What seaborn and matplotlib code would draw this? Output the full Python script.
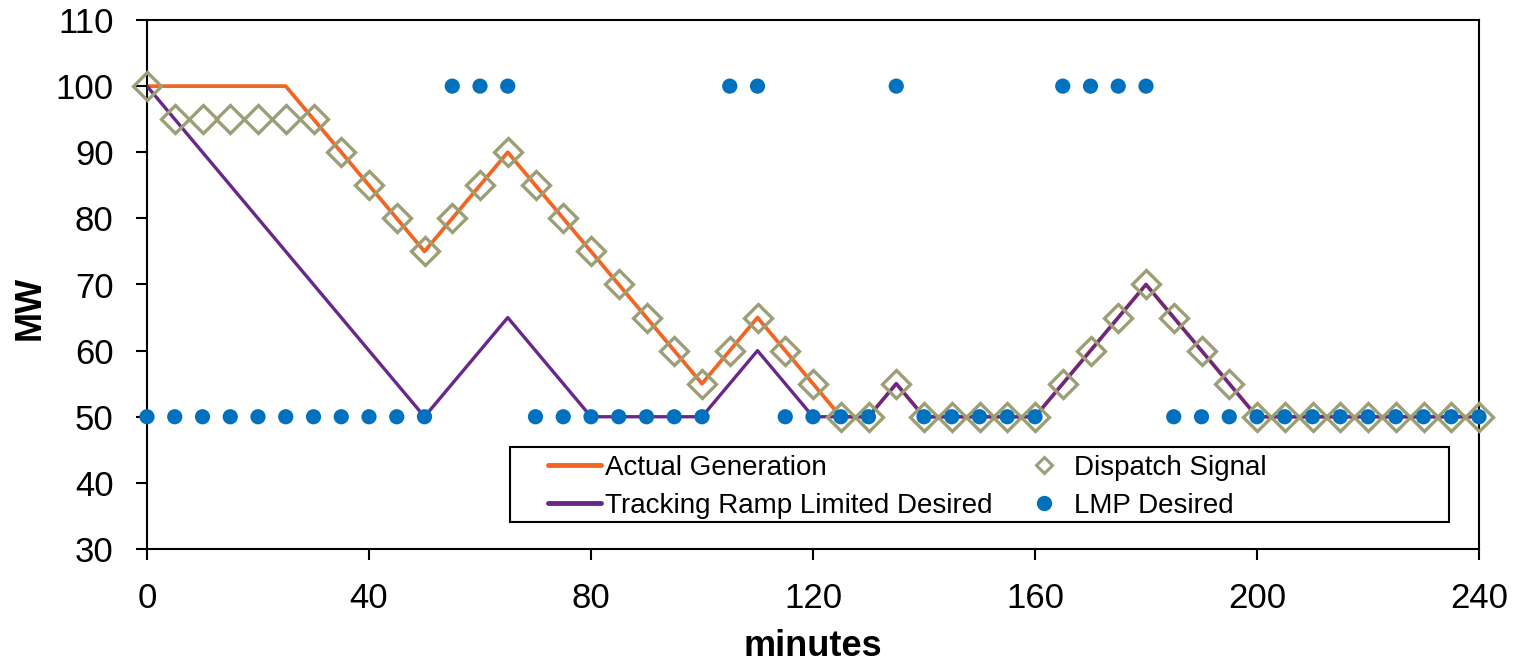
import matplotlib
matplotlib.use('Agg')
import matplotlib.pyplot as plt
from matplotlib.lines import Line2D
from matplotlib.patches import Rectangle
import pandas as pd
import seaborn as sns

# --- chart values ---
minutes = [0, 5, 10, 15, 20, 25, 30, 35, 40, 45, 50, 55, 60, 65, 70, 75, 80, 85, 90, 95,
           100, 105, 110, 115, 120, 125, 130, 135, 140, 145, 150, 155, 160, 165, 170, 175,
           180, 185, 190, 195, 200, 205, 210, 215, 220, 225, 230, 235, 240]

actual_generation = [100, 100, 100, 100, 100, 100, 95, 90, 85, 80, 75, 80, 85, 90, 85, 80, 75, 70, 65, 60,
                     55, 60, 65, 60, 55, 50, 50, 55, 50, 50, 50, 50, 50, 55, 60, 65,
                     70, 65, 60, 55, 50, 50, 50, 50, 50, 50, 50, 50, 50]

ramp_limited = [100, 95, 90, 85, 80, 75, 70, 65, 60, 55, 50, 55, 60, 65, 60, 55, 50, 50, 50, 50,
                50, 55, 60, 55, 50, 50, 50, 55, 50, 50, 50, 50, 50, 55, 60, 65,
                70, 65, 60, 55, 50, 50, 50, 50, 50, 50, 50, 50, 50]

dispatch_signal = [100, 95, 95, 95, 95, 95, 95, 90, 85, 80, 75, 80, 85, 90, 85, 80, 75, 70, 65, 60,
                   55, 60, 65, 60, 55, 50, 50, 55, 50, 50, 50, 50, 50, 55, 60, 65,
                   70, 65, 60, 55, 50, 50, 50, 50, 50, 50, 50, 50, 50]

lmp_desired = [50, 50, 50, 50, 50, 50, 50, 50, 50, 50, 50, 100, 100, 100, 50, 50, 50, 50, 50, 50,
               50, 100, 100, 50, 50, 50, 50, 100, 50, 50, 50, 50, 50, 100, 100, 100,
               100, 50, 50, 50, 50, 50, 50, 50, 50, 50, 50, 50, 50]

series_names = ['Actual Generation', 'Tracking Ramp Limited Desired', 'Dispatch Signal', 'LMP Desired']

df = pd.DataFrame({'minutes': minutes, 'actual': actual_generation, 'ramp': ramp_limited,
                   'dispatch': dispatch_signal, 'lmp': lmp_desired})

orange = '#F26522'
purple = '#68288A'
olive = '#9C9F76'
blue = '#0071BF'

sns.set_style('ticks')
plt.rcParams['font.family'] = ['Liberation Sans', 'DejaVu Sans']
plt.rcParams['text.color'] = 'black'
plt.rcParams['xtick.color'] = 'black'
plt.rcParams['ytick.color'] = 'black'

fig = plt.figure(figsize=(15.13, 6.62), dpi=100)
ax = fig.add_axes([147 / 1513, 1 - 549 / 662, 1332 / 1513, 529 / 662])

sns.lineplot(data=df, x='minutes', y='actual', color=orange, linewidth=2.7, ax=ax, zorder=2)
sns.lineplot(data=df, x='minutes', y='ramp', color=purple, linewidth=2.4, ax=ax, zorder=3)
sns.lineplot(data=df, x='minutes', y='dispatch', linestyle='', marker='D', markersize=14,
             markerfacecolor='none', markeredgecolor=olive, markeredgewidth=2.4,
             ax=ax, zorder=4, clip_on=False)
sns.scatterplot(data=df, x='minutes', y='lmp', marker='o', s=120, color=blue, edgecolor='none',
                linewidth=0, ax=ax, zorder=5, clip_on=False)

ax.set_xlim(0, 240)
ax.set_ylim(30, 110)
ax.set_xticks(range(0, 241, 40))
ax.set_yticks(range(30, 111, 10))
ax.tick_params(axis='both', direction='out', length=8, width=1.5, labelsize=25, pad=16,
               color='black', labelcolor='black')
ax.tick_params(axis='y', right=False)
for s in ax.spines.values():
    s.set_linewidth(1.5)
    s.set_color('black')

ax.set_xlabel('')
ax.set_ylabel('')
fig.text(813 / 1513, 1 - 646 / 662, 'minutes', ha='center', va='center', fontsize=26,
         fontweight='bold', color='black')
fig.text(30 / 1513, 1 - 308 / 662, 'MW', ha='center', va='center', rotation=90, fontsize=26,
         fontweight='bold', color='black')

# legend box
ax.add_patch(Rectangle((0.2725, 0.051), 0.705, 0.1418, transform=ax.transAxes,
                       facecolor='white', edgecolor='black', linewidth=1.5, zorder=6))
handles = [Line2D([], [], color=orange, lw=3.5),
           Line2D([], [], color=purple, lw=3.5),
           Line2D([], [], ls='', marker='D', ms=8, mfc='none', mec=olive, mew=2.2),
           Line2D([], [], ls='', marker='o', ms=10, color=blue)]
leg = ax.legend(handles, series_names, ncol=2, loc='upper left', bbox_to_anchor=(0.301, 0.178),
                frameon=False, fontsize=20, handlelength=1.9, handletextpad=0.15,
                columnspacing=0.9, labelspacing=0.43, borderpad=0, borderaxespad=0)
leg.set_zorder(7)
for t in leg.get_texts():
    t.set_color('black')

fig.savefig('out.png', dpi=100)
